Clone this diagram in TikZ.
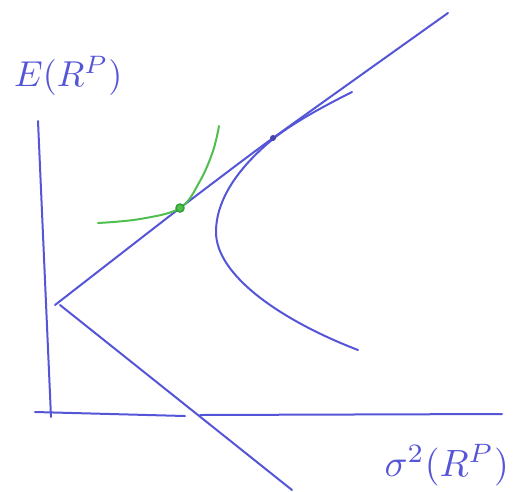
\documentclass[tikz,border=0pt]{standalone}
\usepackage{graphicx}
\definecolor{pen}{RGB}{85,85,215}
\definecolor{gpen}{RGB}{80,190,80}
\definecolor{gdot}{RGB}{50,160,50}
\tikzset{
  ink/.style={draw=pen, line width=2pt, line cap=round, line join=round},
  ginks/.style={draw=gpen, line width=2pt, line cap=round},
  lbl/.style={text=pen, inner sep=0pt}
}
\begin{document}
\begin{tikzpicture}[x=1pt,y=-1pt]
\useasboundingbox (0,0) rectangle (516,491);
% axes
\coordinate (yt) at (38,121);
\coordinate (o) at (51,417);
\coordinate (xl) at (35,412);
\coordinate (xm1) at (185,416);
\coordinate (xm2) at (200,415);
\coordinate (xr) at (502,414);
\draw[ink] (yt) -- (o);
\draw[ink] (xl) -- (xm1);
\draw[ink] (xm2) -- (xr);
% lines from the risk-free point
\coordinate (rf) at (55,305);
\coordinate (rf2) at (60,305);
\coordinate (lowend) at (292,490);
\draw[ink] plot[smooth, tension=0.3] coordinates {(rf) (180,208) (273,138) (448,13)};
\draw[ink] (rf2) -- (lowend);
% frontier
\coordinate (ftop) at (352,92);
\coordinate (fv) at (216,232);
\coordinate (fbot) at (358,350);
\draw[ink] (ftop) .. controls (320,108) and (290,125) .. (273,139)
  .. controls (245,162) and (216,195) .. (fv)
  .. controls (216,275) and (280,320) .. (fbot);
% indifference curve
\draw[ginks] plot[smooth, tension=0.6] coordinates {(98,223) (140,219) (180,208) (200,181) (213,151) (219,126)};
% tangency points
\node[circle, fill=pen!80!black, inner sep=0pt, minimum size=6pt] (tp) at (273,138) {};
\node[circle, draw=gdot, line width=1.5pt, fill=gpen, inner sep=0pt, minimum size=8pt] (gp) at (180,208) {};
% labels
\node[lbl, anchor=west] (ey) at (14,76) {\scalebox{3.6}{$E(R^{P})$}};
\node[lbl, anchor=east] (sx) at (509,465) {\scalebox{3.8}{$\sigma^{2}(R^{P})$}};
\end{tikzpicture}
\end{document}
